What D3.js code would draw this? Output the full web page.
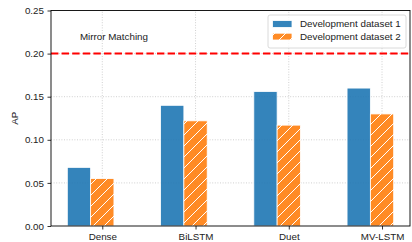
<!DOCTYPE html>
<html>
<head>
<meta charset="utf-8">
<script src="https://cdn.jsdelivr.net/npm/d3@7"></script>
<style>
  body { margin: 0; background: #fff; }
  svg { display: block; font-family: "Liberation Sans", Arial, sans-serif; }
</style>
</head>
<body>
<div id="chart"></div>
<script>
// chart data
var categories = ["Dense", "BiLSTM", "Duet", "MV-LSTM"];
var dev1 = [0.068, 0.140, 0.156, 0.160];
var dev2 = [0.055, 0.122, 0.117, 0.130];
var seriesNames = ["Development dataset 1", "Development dataset 2"];
var yTicks = [0, 0.05, 0.10, 0.15, 0.20, 0.25];
var refValue = 0.20;
var refLabel = "Mirror Matching";

var svgWidth = 412, svgHeight = 242;
var margins = { top: 10.5, bottom: 16, left: 51, right: 2 };
var fontSize = 9.8;

var svg = d3.select("#chart")
    .append("svg")
    .attr("width", svgWidth)
    .attr("height", svgHeight);

var barW = 0.25;

var xScale = d3.scaleLinear()
    .domain([-0.55, 3.3])
    .range([margins.left, svgWidth - margins.right]);
var yScale = d3.scaleLinear()
    .domain([0, 0.25])
    .range([svgHeight - margins.bottom, margins.top]);

// hatch pattern
var defs = svg.append("defs");
var pat = defs.append("pattern")
    .attr("id", "hatch")
    .attr("patternUnits", "userSpaceOnUse")
    .attr("width", 11).attr("height", 11);
pat.append("rect").attr("width", 11).attr("height", 11).attr("fill", "#ff7f0e");
pat.append("path")
    .attr("d", "M-1,12 L12,-1 M-6.5,6.5 L6.5,-6.5 M4.5,17.5 L17.5,4.5")
    .attr("stroke", "#fff")
    .attr("stroke-width", 1);

var x0 = margins.left, x1 = svgWidth - margins.right;
var yb = yScale(0), yt = yScale(0.25);

// grid
var grid = svg.append("g").attr("class", "grid");
grid.selectAll("line.gy")
    .data(yTicks.slice(1, -1))
    .enter().append("line")
    .attr("x1", x0).attr("x2", x1)
    .attr("y1", d => yScale(d)).attr("y2", d => yScale(d))
    .attr("stroke", "#c4c4c4").attr("stroke-width", 0.8)
    .attr("stroke-dasharray", "1,1.6");
grid.selectAll("line.gx")
    .data(categories)
    .enter().append("line")
    .attr("x1", (d, i) => xScale(i)).attr("x2", (d, i) => xScale(i))
    .attr("y1", yb).attr("y2", yt)
    .attr("stroke", "#c4c4c4").attr("stroke-width", 0.8)
    .attr("stroke-dasharray", "1,1.6");

// bars
var bars = svg.append("g").attr("opacity", 0.9);
bars.selectAll("rect.b1")
    .data(dev1)
    .enter().append("rect")
    .attr("x", (d, i) => xScale(i - barW * 1.5))
    .attr("width", xScale(barW) - xScale(0))
    .attr("y", d => yScale(d))
    .attr("height", d => yb - yScale(d))
    .attr("fill", "#1f77b4")
    .attr("stroke", "#fff").attr("stroke-width", 0.8);
bars.selectAll("rect.b2")
    .data(dev2)
    .enter().append("rect")
    .attr("x", (d, i) => xScale(i - barW * 0.5))
    .attr("width", xScale(barW) - xScale(0))
    .attr("y", d => yScale(d))
    .attr("height", d => yb - yScale(d))
    .attr("fill", "url(#hatch)")
    .attr("stroke", "#fff").attr("stroke-width", 0.8);

// reference line
svg.append("line")
    .attr("x1", x0).attr("x2", x1)
    .attr("y1", yScale(refValue)).attr("y2", yScale(refValue))
    .attr("stroke", "#ff0000").attr("stroke-width", 2)
    .attr("stroke-dasharray", "7.4,3.2");
svg.append("text")
    .attr("x", xScale(-0.24))
    .attr("y", yScale(0.216))
    .style("font-size", fontSize + "px")
    .attr("fill", "#222")
    .text(refLabel);

// axes
var yAxis = d3.axisLeft(yScale)
    .tickValues(yTicks)
    .tickFormat(d3.format(".2f"))
    .tickSize(3.5).tickSizeOuter(0).tickPadding(3.5);
var xAxis = d3.axisBottom(xScale)
    .tickValues([0, 1, 2, 3])
    .tickFormat(i => categories[i])
    .tickSize(3.5).tickSizeOuter(0).tickPadding(3.5);

var gy = svg.append("g")
    .attr("transform", `translate(${x0},0)`)
    .call(yAxis);
var gx = svg.append("g")
    .attr("transform", `translate(0,${yb})`)
    .call(xAxis);
[gx, gy].forEach(g => {
    g.select(".domain").remove();
    g.selectAll("text")
        .style("font-size", fontSize + "px")
        .style("font-family", "'Liberation Sans', Arial, sans-serif")
        .attr("fill", "#222");
    g.selectAll(".tick line").attr("stroke", "#000").attr("stroke-width", 0.8);
});

// frame
svg.append("rect")
    .attr("x", x0).attr("y", yt)
    .attr("width", x1 - x0).attr("height", yb - yt)
    .attr("fill", "none")
    .attr("stroke", "#000").attr("stroke-width", 0.9);

// y label
svg.append("text")
    .attr("transform", `translate(18,${(yb + yt) / 2}) rotate(-90)`)
    .style("text-anchor", "middle")
    .style("font-size", fontSize + "px")
    .attr("fill", "#222")
    .text("AP");

// legend
var legend = svg.append("g");
legend.append("rect")
    .attr("x", 268).attr("y", 15)
    .attr("width", 138).attr("height", 33)
    .attr("rx", 2)
    .attr("fill", "#fff").attr("fill-opacity", 0.8)
    .attr("stroke", "#d0d0d0").attr("stroke-width", 0.8);
var fills = ["#1f77b4", "url(#hatch)"];
seriesNames.forEach((name, i) => {
    var cy = 24 + i * 12.6;
    legend.append("rect")
        .attr("x", 272.5).attr("y", cy - 3.4)
        .attr("width", 19.5).attr("height", 6.8)
        .attr("fill", fills[i]).attr("opacity", 0.9)
        .attr("stroke", "#fff").attr("stroke-width", 0.8);
    legend.append("text")
        .attr("x", 300).attr("y", cy)
        .attr("dy", "0.35em")
        .style("font-size", fontSize + "px")
        .attr("fill", "#222")
        .text(name);
});
</script>
</body>
</html>
